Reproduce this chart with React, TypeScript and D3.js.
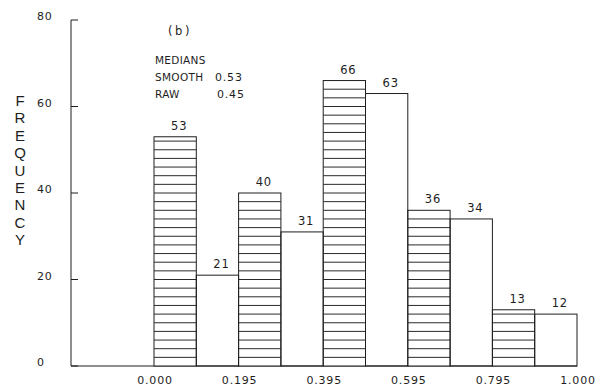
import React from "react";
import * as d3 from "d3";

const binLabels = ["0.000", "0.195", "0.395", "0.595", "0.795", "1.000"];
const hatchedValues = [53, 40, 66, 36, 13];
const plainValues = [21, 31, 63, 34, 12];
const yTicks = [0, 20, 40, 60, 80];
const yTitle = "FREQUENCY";
const panelLabel = "(b)";
const medianLines = [
  { name: "MEDIANS", value: "" },
  { name: "SMOOTH", value: "0.53" },
  { name: "RAW", value: "0.45" },
];

const W = 600;
const H = 391;
const ink = "#1e1e1e";
const font = "'DejaVu Sans', sans-serif";

export default function App() {
  const x = d3.scaleLinear().domain([0, binLabels.length - 1]).range([154, 577]);
  const y = d3.scaleLinear().domain([0, 80]).range([366, 20]);
  const axisX = 71;
  const numStyle = { fontSize: 11, letterSpacing: 0.8 };

  return (
    <svg
      width={W}
      height={H}
      style={{ position: "absolute", left: 0, top: 0, background: "#fff" }}
      fontFamily={font}
    >
      <rect width={W} height={H} fill="#fff" />
      {/* y axis */}
      <line x1={axisX} x2={axisX} y1={y(80)} y2={y(0)} stroke={ink} strokeWidth={1} />
      {yTicks.map((t) => (
        <g key={t}>
          <line x1={axisX} x2={axisX + 7} y1={y(t)} y2={y(t)} stroke={ink} strokeWidth={1} />
          <text x={37} y={y(t)} {...numStyle} fill={ink} textAnchor="start">
            {t}
          </text>
        </g>
      ))}
      {/* x axis */}
      <line x1={axisX} x2={x(binLabels.length - 1)} y1={y(0)} y2={y(0)} stroke={ink} strokeWidth={1} />
      {binLabels.map((l, i) => (
        <text key={l} x={x(i) + 1} y={384} {...numStyle} fill={ink} textAnchor="middle">
          {l}
        </text>
      ))}
      {/* y title stacked letters */}
      {yTitle.split("").map((c, i) => (
        <text
          key={i}
          x={20}
          y={106 + i * 17.4}
          fontSize={15}
          fontFamily="'Liberation Sans', Arial, sans-serif"
          fill={ink}
          textAnchor="middle"
        >
          {c}
        </text>
      ))}
      {/* hatched bars */}
      {hatchedValues.map((v, i) => {
        const x0 = x(i);
        const x1 = x(i + 0.5);
        return (
          <g key={"h" + i}>
            <rect x={x0} y={y(v)} width={x1 - x0} height={y(0) - y(v)} fill="#fff" stroke={ink} strokeWidth={1} />
            {d3.range(2, v, 2).map((k) => (
              <line key={k} x1={x0} x2={x1} y1={y(k)} y2={y(k)} stroke="#2a2a2a" strokeWidth={1} />
            ))}
            <text x={(x0 + x1) / 2 + 4} y={y(v) - 7} {...numStyle} fontSize={11.5} fill={ink} textAnchor="middle">
              {v}
            </text>
          </g>
        );
      })}
      {/* plain bars */}
      {plainValues.map((v, i) => {
        const x0 = x(i + 0.5);
        const x1 = x(i + 1);
        return (
          <g key={"p" + i}>
            <rect x={x0} y={y(v)} width={x1 - x0} height={y(0) - y(v)} fill="none" stroke={ink} strokeWidth={1} />
            <text x={(x0 + x1) / 2 + 4} y={y(v) - 7} {...numStyle} fontSize={11.5} fill={ink} textAnchor="middle">
              {v}
            </text>
          </g>
        );
      })}
      {/* annotations */}
      <text x={180} y={35} fontSize={11.5} fill={ink} textAnchor="middle" letterSpacing={2.5}>
        {panelLabel}
      </text>
      {medianLines.map((m, i) => (
        <g key={m.name}>
          <text x={155} y={64 + i * 17} fontSize={10.5} fill={ink} letterSpacing={0.3}>
            {m.name}
          </text>
          {m.value && (
            <text x={i === 1 ? 215 : 217} y={64 + i * 17} {...numStyle} fill={ink}>
              {m.value}
            </text>
          )}
        </g>
      ))}
    </svg>
  );
}
